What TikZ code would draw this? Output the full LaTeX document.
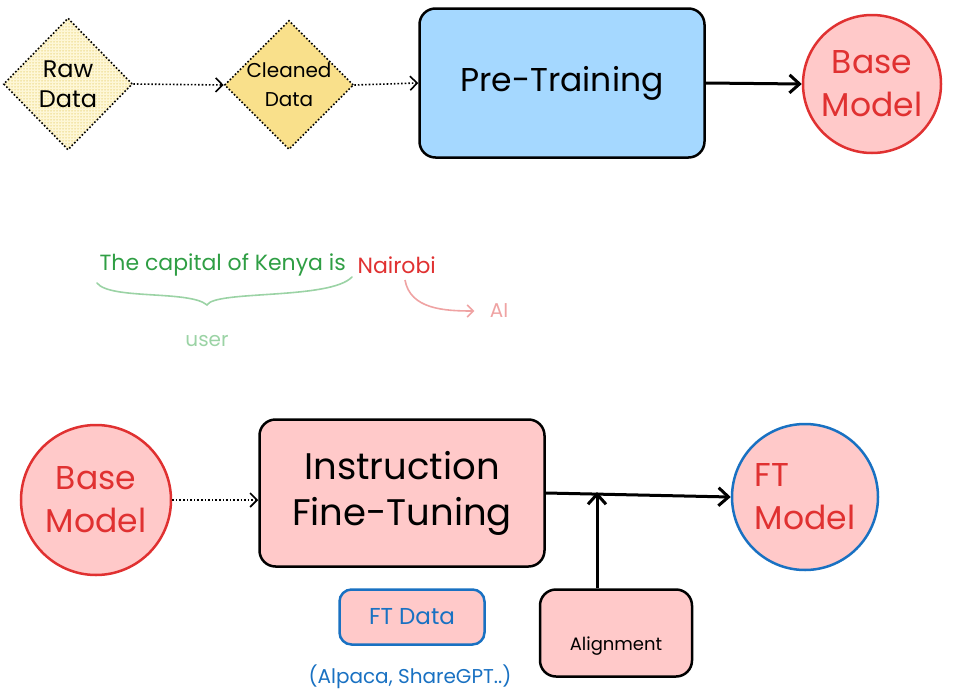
\documentclass[tikz,border=0pt]{standalone}
\usepackage{fontspec}
\setmainfont{Poppins}
\usetikzlibrary{shapes.geometric,arrows.meta,patterns}

\definecolor{skyfill}{HTML}{A5D8FF}
\definecolor{rosefill}{HTML}{FFC9C9}
\definecolor{redline}{HTML}{E03131}
\definecolor{blueline}{HTML}{1971C2}
\definecolor{cleanfill}{HTML}{F9E08B}
\definecolor{rawfill}{HTML}{FFF9DC}
\definecolor{rawhatch}{HTML}{F3E3A0}
\definecolor{usergreen}{HTML}{2F9E44}
\definecolor{palegreen}{HTML}{9BD3A5}
\definecolor{palered}{HTML}{EFA3A3}

\tikzset{
    box/.style={draw=black, line width=2.5pt, rounded corners=16pt, inner sep=0pt, align=center},
    dia/.style={diamond, draw=black, line width=1.6pt, dotted, inner sep=0pt, align=center},
    model/.style={circle, line width=2.5pt, fill=rosefill, text=redline, align=center, inner sep=0pt},
    dotarrow/.style={line width=1.6pt, dotted, -{Straight Barb[length=7pt,width=14pt]}},
    bigarrow/.style={line width=3pt, -{Straight Barb[length=10pt,width=18pt]}},
    hugetxt/.style={font=\fontsize{33}{43}\selectfont},
    bigtxt/.style={font=\fontsize{37}{46}\selectfont},
    midtxt/.style={font=\fontsize{20}{29}\selectfont},
    smalltxt/.style={font=\fontsize{20}{24}\selectfont},
    sentence/.style={font=\fontsize{22}{26}\selectfont},
}

\begin{document}
\begin{tikzpicture}[x=1pt, y=-1pt]
    \useasboundingbox (0,0) rectangle (970,699);

    % 预训练流程
    \node[dia, font=\fontsize{24}{30}\selectfont, minimum width=129pt, minimum height=132pt,
          pattern=crosshatch, pattern color=rawhatch, preaction={fill=rawfill}]
          (raw) at (68,84) {Raw\\Data};
    \node[dia, midtxt, minimum width=114pt, minimum height=125pt, fill=cleanfill]
          (clean) at (289,85) {Cleaned\\Data};
    \node[box, hugetxt, fill=skyfill, minimum width=285pt, minimum height=149pt]
          (pretrain) at (562,83) {Pre-Training};
    \node[model, hugetxt, draw=redline, minimum size=138pt]
          (base) at (872,84) {Base\\Model};

    \draw[dotarrow] (raw.east) -- (clean.west);
    \draw[dotarrow] (clean.east) -- (pretrain.west);
    \draw[bigarrow] (pretrain.east) -- (base.west);

    % 示例句子
    \node[sentence, text=usergreen, anchor=west] (prompt) at (96,265) {The capital of Kenya is};
    \node[sentence, text=redline, anchor=west] (answer) at (354,265) {Nairobi};
    \node[smalltxt, text=palegreen] (user) at (207,341) {user};
    \node[smalltxt, text=palered] (ai) at (499,311) {AI};

    % 花括号 (user)
    \coordinate (braceL) at (97,283);
    \coordinate (braceM) at (207,305);
    \coordinate (braceR) at (352,277);
    \draw[palegreen, line width=1.6pt, line cap=round]
        (braceL) .. controls (110,300) and (190,290) .. (braceM)
        .. controls (215,290) and (330,300) .. (braceR);

    % 弯箭头 (AI)
    \coordinate (aiStart) at (405,280);
    \draw[palered, line width=1.6pt, -{Straight Barb[length=6pt,width=12pt]}]
        (aiStart) to[out=-80, in=180] ([xshift=-12pt]ai.west);

    % 指令微调流程
    \node[model, hugetxt, draw=redline, minimum size=150pt]
          (base2) at (96,500) {Base\\Model};
    \node[box, bigtxt, fill=rosefill, minimum width=285pt, minimum height=147pt]
          (ift) at (402,493) {Instruction\\Fine-Tuning};
    \node[model, hugetxt, draw=blueline, minimum size=146pt, align=left]
          (ftm) at (805,497) {FT\\Model};
    \node[box, font=\fontsize{18}{22}\selectfont, fill=rosefill, minimum width=152pt,
          minimum height=87pt, text height=34pt, text depth=0pt]
          (align) at (616,633) {Alignment};
    \node[box, font=\fontsize{23}{28}\selectfont, draw=blueline, text=blueline, fill=rosefill,
          minimum width=145pt, minimum height=55pt, rounded corners=12pt]
          (ftdata) at (412,617) {FT Data};
    \node[smalltxt, text=blueline] (ftsrc) at (410,677) {(Alpaca, ShareGPT..)};

    \coordinate (junc) at (597,492);
    \draw[dotarrow] (base2.east) -- (base2.east -| ift.west);
    \draw[bigarrow] (ift.east) -- (ftm.west);
    \draw[bigarrow] (align.north -| junc) -- (junc);
\end{tikzpicture}
\end{document}
